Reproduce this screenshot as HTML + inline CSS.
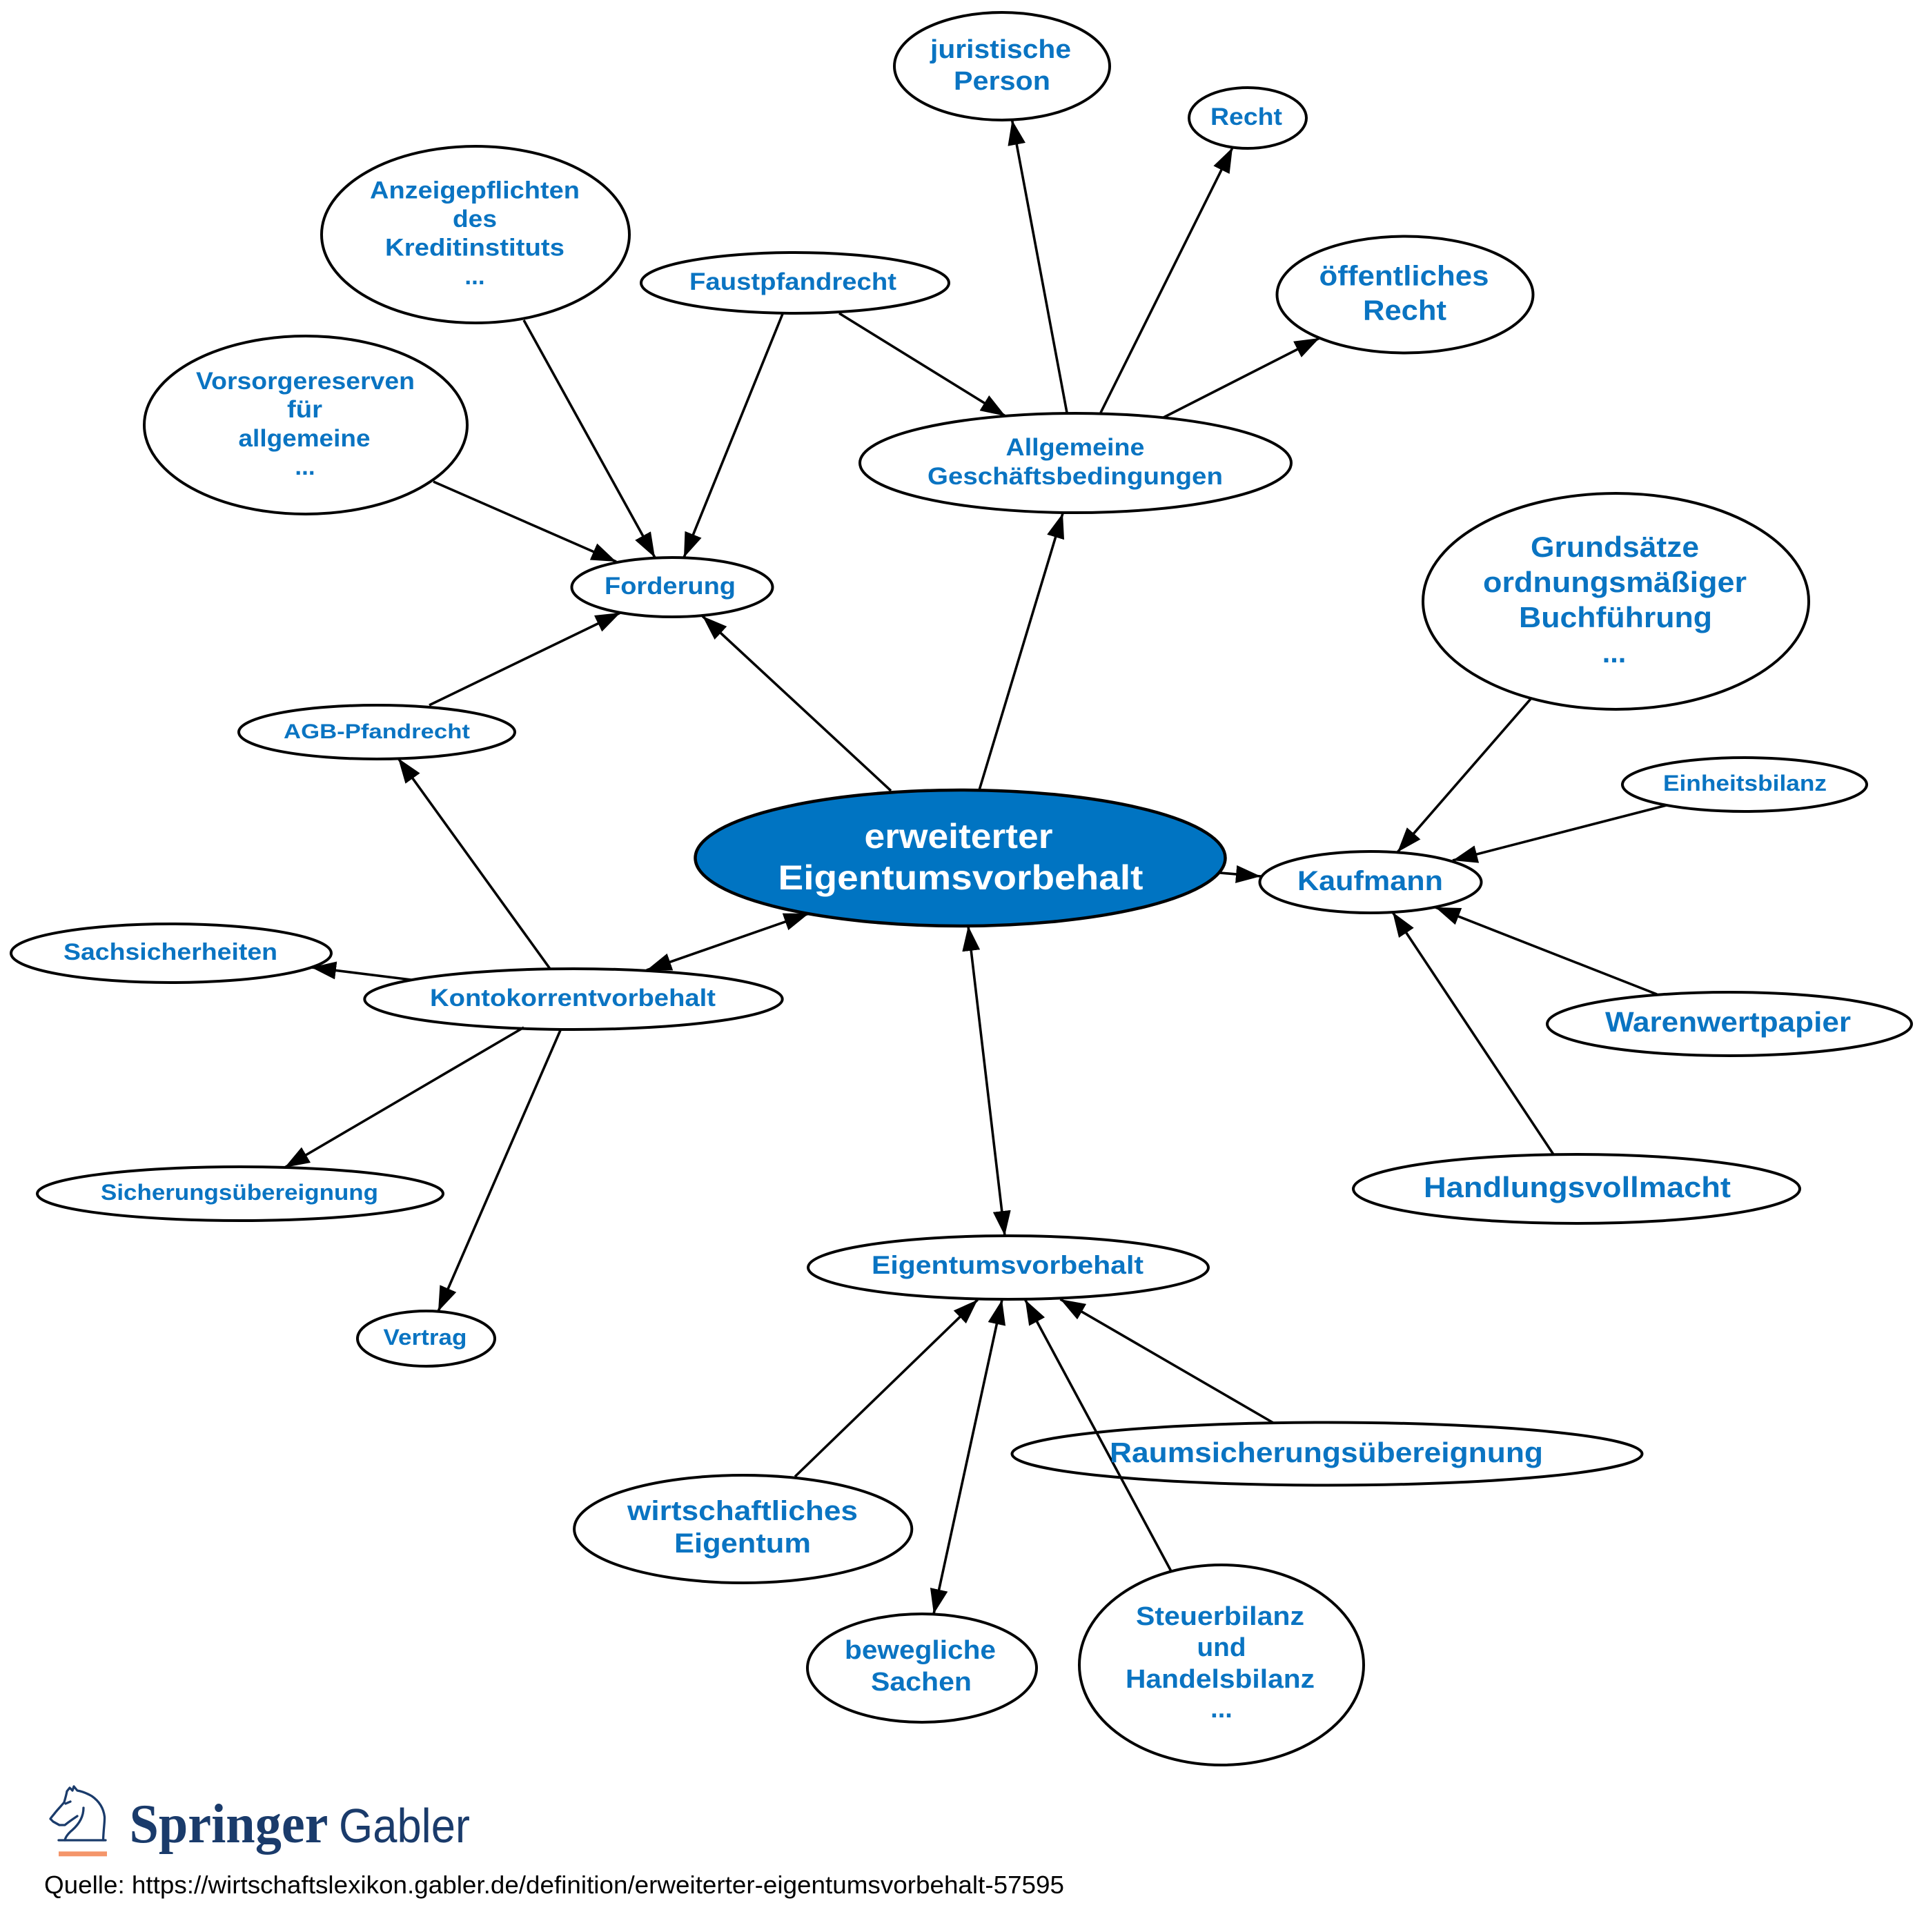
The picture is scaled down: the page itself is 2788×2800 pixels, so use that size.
<!DOCTYPE html>
<html><head><meta charset="utf-8"><style>
html,body{margin:0;padding:0;background:#fff;}
svg{display:block;}
.n{fill:#fff;stroke:#000;stroke-width:4;}
.t{font-family:"Liberation Sans",Arial,sans-serif;font-weight:bold;fill:#0A74C2;text-anchor:middle;}
.e{stroke:#000;stroke-width:3.6;fill:none;marker-end:url(#a);}
.b{marker-start:url(#a);}
</style></head><body>
<svg width="2788" height="2800" viewBox="0 0 2788 2800" xmlns="http://www.w3.org/2000/svg">
<defs>
<marker id="a" markerUnits="userSpaceOnUse" markerWidth="40" markerHeight="30" viewBox="0 0 40 30" refX="36" refY="15" orient="auto-start-reverse">
<path d="M0,2 L36,15 L0,28 Z" fill="#000"/>
</marker>
</defs>

<!-- nodes -->
<ellipse class="n" cx="689" cy="340" rx="223" ry="128"/>
<ellipse class="n" cx="443" cy="616" rx="234" ry="129"/>
<ellipse class="n" cx="1152" cy="410" rx="223" ry="44"/>
<ellipse class="n" cx="974" cy="851" rx="145.5" ry="43"/>
<ellipse class="n" cx="546" cy="1061" rx="200" ry="39"/>
<ellipse class="n" cx="248" cy="1381.5" rx="232" ry="42.5"/>
<ellipse class="n" cx="1452" cy="96" rx="156" ry="78"/>
<ellipse class="n" cx="1808" cy="171" rx="85" ry="44"/>
<ellipse class="n" cx="2036" cy="427" rx="185.5" ry="84.5"/>
<ellipse class="n" cx="1558.5" cy="671" rx="312.5" ry="72"/>
<ellipse class="n" cx="2341.5" cy="871.5" rx="279.5" ry="156.5"/>
<ellipse class="n" cx="2528" cy="1137" rx="177" ry="39"/>
<ellipse class="n" cx="1986" cy="1278.5" rx="160.5" ry="44.5"/>
<ellipse class="n" cx="2506" cy="1484" rx="264" ry="46"/>
<ellipse class="n" cx="2284.5" cy="1723" rx="323.5" ry="50"/>
<ellipse class="n" cx="1461" cy="1837" rx="290" ry="46"/>
<ellipse class="n" cx="1923" cy="2107" rx="456.5" ry="45.5"/>
<ellipse class="n" cx="1770" cy="2413" rx="206" ry="145"/>
<ellipse class="n" cx="1336" cy="2417.5" rx="166" ry="78.5"/>
<ellipse class="n" cx="1076.7" cy="2216" rx="244.6" ry="78"/>
<ellipse class="n" cx="831" cy="1448" rx="302.7" ry="44"/>
<ellipse class="n" cx="348" cy="1730" rx="294" ry="39"/>
<ellipse class="n" cx="617.5" cy="1940" rx="99.5" ry="40"/>
<ellipse cx="1391.5" cy="1243.5" rx="384" ry="98.5" fill="#0074C2" stroke="#000" stroke-width="4.5"/>

<!-- edges -->
<path class="e" d="M1291,1146 L1018,893"/>
<path class="e" d="M1419,1145 L1540,744"/>
<path class="e" d="M1768,1265 L1827,1270"/>
<path class="e b" d="M1403,1342 L1456,1791"/>
<path class="e b" d="M1172,1324 L937,1406"/>
<path class="e" d="M759,464 L949,808"/>
<path class="e" d="M1134,455 L991,808"/>
<path class="e" d="M628,698 L893,814"/>
<path class="e" d="M622,1022 L899,888"/>
<path class="e" d="M1216,454 L1457,603"/>
<path class="e" d="M1546,598 L1466.6,174"/>
<path class="e" d="M1595,598 L1786,214"/>
<path class="e" d="M1686,605 L1912,490"/>
<path class="e" d="M2218,1013 L2025,1235"/>
<path class="e" d="M2415,1167 L2105,1247"/>
<path class="e" d="M2401,1441 L2080,1315"/>
<path class="e" d="M2251,1673 L2018,1322"/>
<path class="e" d="M797,1404 L577,1099"/>
<path class="e" d="M596,1420 L451,1402"/>
<path class="e" d="M759,1489 L412.5,1692"/>
<path class="e" d="M812.5,1492 L635,1900.5"/>
<path class="e" d="M1152,2140 L1416.7,1883.7"/>
<path class="e b" d="M1452,1883.7 L1353,2339"/>
<path class="e" d="M1845,2062 L1536.5,1883"/>
<path class="e" d="M1697,2277 L1485.6,1883.7"/>

<!-- labels -->
<g class="t">
<text x="688" y="287.5" font-size="35" textLength="304" lengthAdjust="spacingAndGlyphs">Anzeigepflichten</text>
<text x="688" y="329" font-size="35" textLength="64" lengthAdjust="spacingAndGlyphs">des</text>
<text x="688" y="370.5" font-size="35" textLength="260" lengthAdjust="spacingAndGlyphs">Kreditinstituts</text>
<text x="688" y="412" font-size="35">...</text>

<text x="442.5" y="564" font-size="35" textLength="317" lengthAdjust="spacingAndGlyphs">Vorsorgereserven</text>
<text x="441.5" y="605" font-size="35" textLength="51" lengthAdjust="spacingAndGlyphs">für</text>
<text x="441" y="647" font-size="35" textLength="191" lengthAdjust="spacingAndGlyphs">allgemeine</text>
<text x="442" y="688" font-size="35">...</text>

<text x="1149" y="420" font-size="35.5" textLength="300" lengthAdjust="spacingAndGlyphs">Faustpfandrecht</text>
<text x="971" y="861" font-size="35" textLength="190" lengthAdjust="spacingAndGlyphs">Forderung</text>
<text x="546" y="1070" font-size="30" textLength="270" lengthAdjust="spacingAndGlyphs">AGB-Pfandrecht</text>
<text x="247" y="1391" font-size="34" textLength="310" lengthAdjust="spacingAndGlyphs">Sachsicherheiten</text>

<text x="1450" y="84" font-size="38" textLength="204" lengthAdjust="spacingAndGlyphs">juristische</text>
<text x="1452" y="130" font-size="38" textLength="140" lengthAdjust="spacingAndGlyphs">Person</text>
<text x="1806" y="181" font-size="35" textLength="104" lengthAdjust="spacingAndGlyphs">Recht</text>
<text x="2034.5" y="413.5" font-size="41" textLength="246" lengthAdjust="spacingAndGlyphs">öffentliches</text>
<text x="2035.5" y="463.5" font-size="41" textLength="121" lengthAdjust="spacingAndGlyphs">Recht</text>
<text x="1558" y="660" font-size="35" textLength="201" lengthAdjust="spacingAndGlyphs">Allgemeine</text>
<text x="1558" y="702" font-size="35" textLength="428" lengthAdjust="spacingAndGlyphs">Geschäftsbedingungen</text>

<text x="2340" y="807" font-size="41.5" textLength="244" lengthAdjust="spacingAndGlyphs">Grundsätze</text>
<text x="2340" y="858" font-size="41.5" textLength="382" lengthAdjust="spacingAndGlyphs">ordnungsmäßiger</text>
<text x="2341" y="909" font-size="41.5" textLength="280" lengthAdjust="spacingAndGlyphs">Buchführung</text>
<text x="2339" y="960" font-size="41.5">...</text>

<text x="2528.5" y="1146" font-size="32.6" textLength="237" lengthAdjust="spacingAndGlyphs">Einheitsbilanz</text>
<text x="1985.5" y="1290" font-size="40" textLength="211" lengthAdjust="spacingAndGlyphs">Kaufmann</text>
<text x="2504" y="1495" font-size="40.7" textLength="356" lengthAdjust="spacingAndGlyphs">Warenwertpapier</text>
<text x="2285.5" y="1735" font-size="42" textLength="445" lengthAdjust="spacingAndGlyphs">Handlungsvollmacht</text>

<text x="1460" y="1846" font-size="37" textLength="394" lengthAdjust="spacingAndGlyphs">Eigentumsvorbehalt</text>
<text x="1922" y="2119" font-size="41" textLength="628" lengthAdjust="spacingAndGlyphs">Raumsicherungsübereignung</text>

<text x="1768" y="2355" font-size="38" textLength="244" lengthAdjust="spacingAndGlyphs">Steuerbilanz</text>
<text x="1770" y="2400" font-size="38" textLength="71" lengthAdjust="spacingAndGlyphs">und</text>
<text x="1768" y="2446" font-size="38" textLength="274" lengthAdjust="spacingAndGlyphs">Handelsbilanz</text>
<text x="1770" y="2489" font-size="38">...</text>

<text x="1333.5" y="2404" font-size="38" textLength="219" lengthAdjust="spacingAndGlyphs">bewegliche</text>
<text x="1335" y="2450" font-size="38" textLength="146" lengthAdjust="spacingAndGlyphs">Sachen</text>

<text x="1076" y="2203" font-size="40" textLength="334" lengthAdjust="spacingAndGlyphs">wirtschaftliches</text>
<text x="1076" y="2250" font-size="40" textLength="198" lengthAdjust="spacingAndGlyphs">Eigentum</text>

<text x="830" y="1458" font-size="35.4" textLength="414" lengthAdjust="spacingAndGlyphs">Kontokorrentvorbehalt</text>
<text x="347" y="1739" font-size="32.4" textLength="402" lengthAdjust="spacingAndGlyphs">Sicherungsübereignung</text>
<text x="616" y="1949" font-size="32" textLength="121" lengthAdjust="spacingAndGlyphs">Vertrag</text>

<text x="1389" y="1229" font-size="50" textLength="273" lengthAdjust="spacingAndGlyphs" style="fill:#fff">erweiterter</text>
<text x="1392" y="1289" font-size="50" textLength="529" lengthAdjust="spacingAndGlyphs" style="fill:#fff">Eigentumsvorbehalt</text>
</g>

<!-- logo -->
<g fill="none" stroke="#1a3b6b" stroke-width="3.3" stroke-linejoin="round" stroke-linecap="round">
<path d="M85,2667 L153,2667"/>
<path d="M149.5,2667 C150,2650 152,2640 151.5,2633 C150,2620 143,2610 133,2603 C126,2599 118,2596 112,2595 L107,2589 L105,2595 L101,2591 L97,2596 C96,2602 94,2608 93,2612 C89,2617 84,2622 80,2627 C77,2631 74,2634 73,2636 L77,2640 L86,2645 L94,2645 C100,2640 106,2636 112,2632"/>
<path d="M121,2620 C121,2634 114,2644 105,2652 C99,2657 95,2662 94,2667"/>
<path d="M95,2614 L102,2611"/>
</g>
<rect x="85" y="2683.3" width="70" height="7" fill="#F4956A"/>
<text x="187.5" y="2670" font-family="'Liberation Serif',serif" font-weight="bold" font-size="80" fill="#1a3b6b" textLength="288" lengthAdjust="spacingAndGlyphs">Springer</text>
<text x="491" y="2670" font-family="'Liberation Sans',sans-serif" font-size="70" fill="#1a3b6b" textLength="190" lengthAdjust="spacingAndGlyphs">Gabler</text>

<text x="64" y="2744" font-family="'Liberation Sans',Arial,sans-serif" font-size="36" fill="#000" textLength="1478" lengthAdjust="spacingAndGlyphs">Quelle: https://wirtschaftslexikon.gabler.de/definition/erweiterter-eigentumsvorbehalt-57595</text>
</svg>
</body></html>
